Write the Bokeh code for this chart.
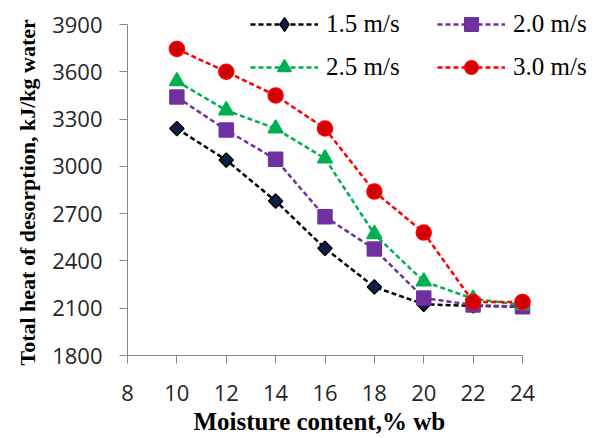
from bokeh.plotting import figure
from bokeh.models import Range1d, FixedTicker, Legend, LegendItem, Title
from bokeh.embed import file_html
from bokeh.resources import INLINE

moisture = [10, 12, 14, 16, 18, 20, 22, 24]
v15 = [3240, 3040, 2780, 2480, 2235, 2125, 2115, 2110]
v20 = [3440, 3230, 3045, 2680, 2475, 2165, 2120, 2110]
v25 = [3540, 3355, 3240, 3050, 2570, 2270, 2160, 2120]
v30 = [3745, 3600, 3450, 3240, 2840, 2580, 2140, 2140]
x_ticks = [8, 10, 12, 14, 16, 18, 20, 22, 24]
y_ticks = [1800, 2100, 2400, 2700, 3000, 3300, 3600, 3900]
labels = ["1.5 m/s", "2.0 m/s", "2.5 m/s", "3.0 m/s"]

# frame: x 8..24 spans 395 px; y 1800..3900 spans 331 px
FW, FH = 478, 355
x_end = 8 + FW * 16 / 395
y_end = 1800 + FH * 2100 / 331

p = figure(frame_width=FW, frame_height=FH, output_backend="svg", toolbar_location=None,
           x_range=Range1d(8, x_end), y_range=Range1d(1800, y_end),
           min_border_left=127, min_border_right=0, min_border_top=0, min_border_bottom=20)
p.outline_line_color = None
p.xgrid.visible = False
p.ygrid.visible = False

for ax in (p.xaxis[0], p.yaxis[0]):
    ax.axis_line_color = "#868686"
    ax.major_tick_line_color = "#868686"
    ax.minor_tick_line_color = None
    ax.major_tick_in = 0
    ax.major_tick_out = 8
    ax.major_label_text_font = "Open Sans"
    ax.major_label_text_font_size = "22px"
    ax.major_label_text_color = "#262626"
    ax.axis_label = None

p.xaxis.ticker = FixedTicker(ticks=x_ticks)
p.yaxis.ticker = FixedTicker(ticks=y_ticks)
p.xaxis.bounds = (8, 24)
p.yaxis.bounds = (1800, 3900)
p.xaxis.major_label_standoff = 21
p.yaxis.major_label_standoff = 17

xt = Title(text="Moisture content,% wb", align="left", offset=66, standoff=5,
           text_font="Liberation Serif", text_font_style="bold", text_font_size="25px",
           text_color="black")
p.add_layout(xt, "below")
yt = Title(text="Total heat of desorption, kJ/kg water", align="left", offset=-10, standoff=20,
           text_font="Liberation Serif", text_font_style="bold", text_font_size="22px",
           text_color="black")
p.add_layout(yt, "left")

series = [
    (v15, "black", "square", 10, 0.785398, "#0d1f4f", "black", "diamond"),
    (v20, "#7030a0", "square", 14, 0.0, "#7030a0", "#7030a0", None),
    (v25, "#00b050", "triangle", 15, 0.0, "#00b050", "#00b050", None),
    (v30, "#ff0000", "circle", 15, 0.0, "#d00000", "#ff0000", None),
]
items = []
for (vals, lc, mk, sz, ang, fc, mlc, leg_mk), lab in zip(series, labels):
    r1 = p.line(moisture, vals, line_color=lc, line_dash="5 3", line_width=2.5)
    r2 = p.scatter(moisture, vals, marker=mk, size=sz, angle=ang, fill_color=fc,
                   line_color=mlc, line_width=1.5)
    if leg_mk is not None:
        # legend-only marker shape, its point lies outside the visible ranges
        r2 = p.scatter([-100], [0], marker=leg_mk, size=sz, fill_color=fc,
                       line_color=mlc, line_width=1.5)
    items.append(LegendItem(label=lab, renderers=[r1, r2]))

legend = Legend(items=items, location=(123, 271), ncols=2, orientation="horizontal",
                glyph_width=68, glyph_height=34, label_standoff=8, spacing=9,
                label_width=102, label_height=20,
                padding=0, margin=0, border_line_color=None, background_fill_alpha=0,
                label_text_font="Liberation Serif", label_text_font_size="25px")
legend.label_text_color = "black"
p.add_layout(legend, "center")

open("out.html", "w").write(file_html(p, INLINE))
